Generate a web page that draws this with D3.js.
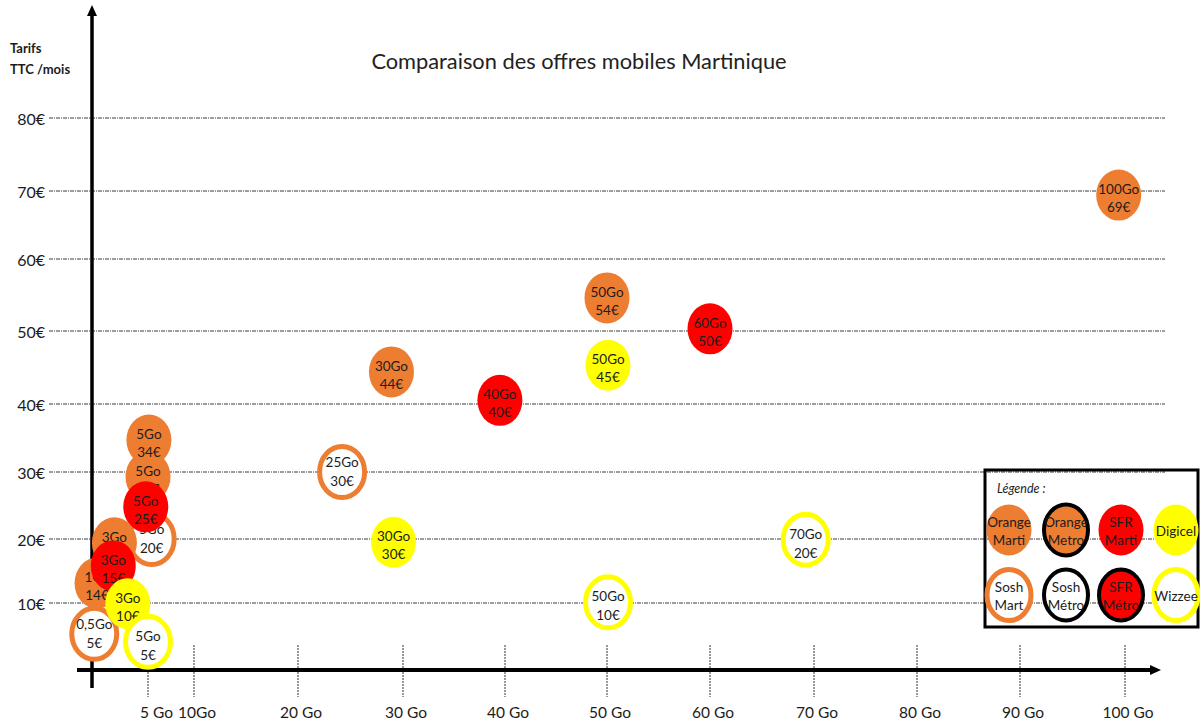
<!DOCTYPE html>
<html>
<head>
<meta charset="utf-8">
<script src="https://cdn.jsdelivr.net/npm/d3@7"></script>
<style>
  html, body { margin: 0; padding: 0; background: #fff; }
  svg { display: block; font-family: Lato, "Open Sans", sans-serif; }
</style>
</head>
<body>
<svg id="chart" width="1200" height="724"></svg>
<script>
// ---------- DATA ----------
const xTickValues = [5, 10, 20, 30, 40, 50, 60, 70, 80, 90, 100];
const xTickLabels = ["5 Go", "10Go", "20 Go", "30 Go", "40 Go", "50 Go", "60 Go", "70 Go", "80 Go", "90 Go", "100 Go"];
const yTickValues = [10, 20, 30, 40, 50, 60, 70, 80];
const yTickLabels = ["10€", "20€", "30€", "40€", "50€", "60€", "70€", "80€"];

// offers, in drawing order (plotted position)
const offerGo   = [99.4, 50.0, 60.0, 50.1, 39.5, 28.9, 24.2, 29.1, 69.2, 50.1, 5.0, 5.1, 5.4, 4.8, 2.0, 0.45, 1.9, 0.2, 3.2, 5.0];
const offerEur  = [69.4, 54.6, 50.3, 45.3, 40.5, 44.4, 30.0, 19.5, 19.9, 10.1, 29.3, 34.7, 20.0, 24.8, 19.4, 13.1, 15.8, 5.4, 9.9, 4.2];
const offerData = ["100Go", "50Go", "60Go", "50Go", "40Go", "30Go", "25Go", "30Go", "70Go", "50Go", "5Go", "5Go", "5Go", "5Go", "3Go", "1Go", "3Go", "0,5Go", "3Go", "5Go"];
const offerPrice= ["69€", "54€", "50€", "45€", "40€", "44€", "30€", "30€", "20€", "10€", "29€", "34€", "20€", "25€", "19€", "14€", "15€", "5€", "10€", "5€"];
const offerType = ["orangeMarti", "orangeMarti", "sfrMarti", "digicel", "sfrMarti", "orangeMarti", "soshMart", "digicel", "wizzee", "wizzee",
                   "orangeMarti", "orangeMarti", "soshMart", "sfrMarti", "orangeMarti", "orangeMarti", "sfrMarti", "soshMart", "digicel", "wizzee"];

const legendTypes = ["orangeMarti", "orangeMetro", "sfrMarti", "digicel", "soshMart", "soshMetro", "sfrMetro", "wizzee"];
const legendNames = [["Orange", "Marti"], ["Orange", "Metro"], ["SFR", "Marti"], ["Digicel"], ["Sosh", "Mart"], ["Sosh", "Métro"], ["SFR", "Métro"], ["Wizzee"]];

// ---------- STYLES ----------
const ORANGE = "#ED7D31", RED = "#FF0000", YELLOW = "#FFFF00";
const typeStyle = {
  orangeMarti: { fill: ORANGE, stroke: "none", sw: 0, t1: -6, t2: 12 },
  orangeMetro: { fill: ORANGE, stroke: "#000", sw: 4, t1: -8, t2: 10 },
  sfrMarti:    { fill: RED, stroke: "none", sw: 0, t1: -6, t2: 12 },
  sfrMetro:    { fill: RED, stroke: "#000", sw: 4, t1: -8, t2: 10 },
  digicel:     { fill: YELLOW, stroke: "none", sw: 0, t1: -6, t2: 12 },
  soshMart:    { fill: "#fff", stroke: ORANGE, sw: 5, t1: -10, t2: 9 },
  soshMetro:   { fill: "#fff", stroke: "#000", sw: 4, t1: -8, t2: 10 },
  wizzee:      { fill: "#fff", stroke: YELLOW, sw: 5, t1: -6, t2: 13 }
};
const TEXT = "#1c1c1c";

const svg = d3.select("#chart");

// scales (calibrated to the hand-placed gridlines / ticks of the original)
const x = d3.scaleLinear()
  .domain([0, 5, 10, 20, 30, 40, 50, 60, 70, 80, 90, 100])
  .range([92, 148, 194, 298, 403, 505, 607, 710, 814, 917, 1020, 1125]);
const y = d3.scaleLinear()
  .domain([0, 10, 20, 30, 40, 50, 60, 70, 80])
  .range([670, 603, 539, 472, 404, 331, 259, 191, 118]);

// ---------- GRID ----------
svg.append("g").selectAll("line").data(yTickValues).join("line")
  .attr("x1", 49).attr("x2", 1165)
  .attr("y1", d => y(d)).attr("y2", d => y(d))
  .attr("stroke", "#3a3a3a").attr("stroke-width", 1)
  .attr("stroke-dasharray", "4 1 1 1");

svg.append("g").selectAll("text").data(yTickValues).join("text")
  .attr("x", 45).attr("y", d => y(d))
  .attr("text-anchor", "end").attr("dominant-baseline", "central")
  .attr("font-size", 16).attr("fill", TEXT)
  .text((d, i) => yTickLabels[i]);

// x ticks (dotted)
svg.append("g").selectAll("line").data(xTickValues).join("line")
  .attr("x1", d => x(d)).attr("x2", d => x(d))
  .attr("y1", 645).attr("y2", 697)
  .attr("stroke", "#333").attr("stroke-width", 1)
  .attr("stroke-dasharray", "2 1");

svg.append("g").selectAll("text").data(xTickValues).join("text")
  .attr("x", (d, i) => i === 0 ? x(d) - 8 : x(d) + 3)
  .attr("y", 712)
  .attr("text-anchor", (d, i) => i === 0 ? "start" : "middle")
  .attr("dominant-baseline", "central")
  .attr("font-size", 15.5).attr("fill", TEXT)
  .text((d, i) => xTickLabels[i]);

// ---------- AXES ----------
svg.append("line").attr("x1", x(0)).attr("x2", x(0)).attr("y1", 12).attr("y2", 688)
  .attr("stroke", "#000").attr("stroke-width", 3.5);
svg.append("path").attr("d", `M${x(0)},5 L${x(0) + 5},16 L${x(0) - 5},16 Z`).attr("fill", "#000");
svg.append("line").attr("x1", 77).attr("x2", 1152).attr("y1", y(0)).attr("y2", y(0))
  .attr("stroke", "#000").attr("stroke-width", 4);
svg.append("path").attr("d", `M1161,${y(0)} L1150,${y(0) - 5} L1150,${y(0) + 5} Z`).attr("fill", "#000");

// axis captions
svg.append("text").attr("x", 10).attr("y", 48).attr("dominant-baseline", "central")
  .attr("font-size", 13).attr("font-weight", "bold").attr("fill", TEXT).text("Tarifs");
svg.append("text").attr("x", 10).attr("y", 69).attr("dominant-baseline", "central")
  .attr("font-size", 13).attr("font-weight", "bold").attr("fill", TEXT).text("TTC /mois");

// title
svg.append("text").attr("x", 579).attr("y", 60)
  .attr("text-anchor", "middle").attr("dominant-baseline", "central")
  .attr("font-size", 21.8).attr("fill", "#222")
  .text("Comparaison des offres mobiles Martinique");

// ---------- BUBBLES ----------
const RX = 22.5, RY = 25.5;
const bubbles = svg.append("g").selectAll("g").data(offerGo.map((g, i) => i)).join("g")
  .attr("transform", i => `translate(${x(offerGo[i])},${y(offerEur[i])})`);
bubbles.append("ellipse")
  .attr("rx", RX).attr("ry", RY)
  .attr("fill", i => typeStyle[offerType[i]].fill)
  .attr("stroke", i => typeStyle[offerType[i]].stroke)
  .attr("stroke-width", i => typeStyle[offerType[i]].sw);
bubbles.append("text").attr("y", i => typeStyle[offerType[i]].t1)
  .attr("text-anchor", "middle").attr("dominant-baseline", "central")
  .attr("font-size", 13.5).attr("fill", TEXT).text(i => offerData[i]);
bubbles.append("text").attr("y", i => typeStyle[offerType[i]].t2)
  .attr("text-anchor", "middle").attr("dominant-baseline", "central")
  .attr("font-size", 13.5).attr("fill", TEXT).text(i => offerPrice[i]);

// ---------- LEGEND ----------
const legend = svg.append("g");
legend.append("rect").attr("x", 985).attr("y", 470).attr("width", 213).attr("height", 157)
  .attr("fill", "none").attr("stroke", "#000").attr("stroke-width", 3);
legend.append("text").attr("x", 997).attr("y", 488).attr("dominant-baseline", "central")
  .attr("font-size", 12.5).attr("font-style", "italic").attr("fill", TEXT).text("Légende :");

const legCx = [1009, 1066, 1121, 1176];
const legCy = [530, 595];
const items = legend.selectAll("g.item").data(legendTypes.map((t, i) => i)).join("g")
  .attr("class", "item")
  .attr("transform", i => `translate(${legCx[i % 4]},${legCy[Math.floor(i / 4)]})`);
items.append("ellipse")
  .attr("rx", i => typeStyle[legendTypes[i]].sw ? 22 : 22.5)
  .attr("ry", 25.5)
  .attr("fill", i => typeStyle[legendTypes[i]].fill)
  .attr("stroke", i => typeStyle[legendTypes[i]].stroke)
  .attr("stroke-width", i => typeStyle[legendTypes[i]].sw);
items.each(function (i) {
  const lines = legendNames[i];
  const g = d3.select(this);
  lines.forEach((t, k) => {
    g.append("text")
      .attr("y", lines.length === 1 ? 1 : (k === 0 ? -8 : 10))
      .attr("text-anchor", "middle").attr("dominant-baseline", "central")
      .attr("font-size", 13.5).attr("fill", TEXT).text(t);
  });
});
</script>
</body>
</html>
